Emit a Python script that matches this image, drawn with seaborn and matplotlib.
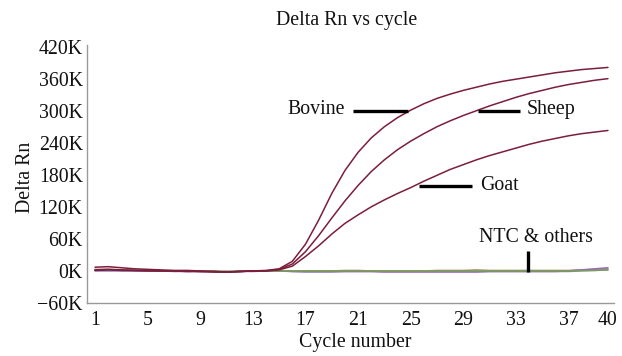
import matplotlib
matplotlib.use("Agg")
import matplotlib.pyplot as plt
import seaborn as sns
import pandas as pd
from matplotlib.ticker import FuncFormatter

# ---- data (values in K) ----
cycles = list(range(1, 41))
bovine = [7, 8, 6, 4, 3, 2, 1, 1, 0, -1, -2, -1, 0, 1, 4, 18, 50, 95, 145, 188,
          222, 249, 270, 287, 301, 313, 323, 331, 338, 344, 350, 355, 359, 363, 367, 371, 374, 377, 379, 381]
sheep = [2, 3, 2, 1, 1, 0, 0, 0, -1, -1, -2, -1, 0, 0, 3, 13, 36, 66, 99, 131,
         160, 186, 208, 227, 243, 257, 270, 281, 291, 300, 309, 317, 325, 332, 338, 344, 349, 353, 357, 360]
goat = [1, 2, 1, 1, 0, 0, 0, -1, -1, -2, -2, -1, 0, 0, 2, 9, 27, 47, 69, 89,
        105, 120, 133, 145, 156, 168, 179, 190, 199, 208, 216, 223, 230, 237, 243, 248, 253, 257, 260, 263]
ntc_green = [2, 2, 1, 1, 1, 0, 0, 0, 0, 0, -1, 0, 0, 0, 0, 0, 0, 0, 0, 0,
             0, 0, 0, 0, 0, 0, 0, 0, 0, 0, 0, 0, 0, 0, 0, 0, 0, 1, 1, 2]
ntc_purple = [1, 1, 1, 0, 0, 0, -1, -1, -1, -1, -2, -1, -1, 0, 0, -1, -1, -1, -1, -1,
              -1, -1, -2, -2, -2, -2, -2, -2, -2, -2, -1, -1, -1, -1, -1, -1, 0, 2, 4, 6]
ntc_tan = [3, 3, 2, 1, 0, 0, 0, -1, 0, -1, -1, -1, 0, 0, 0, 0, 0, 0, 0, 1,
           1, 0, 0, 0, 0, 0, 1, 1, 1, 2, 1, 1, 1, 1, 1, 1, 1, 2, 3, 4]
ntc_blue = [0, 0, 0, 0, 0, 0, 0, 0, -1, -1, -1, -1, 0, 0, 0, -1, -2, -2, -2, -1,
            -1, -1, -1, -1, -1, -1, -1, -1, -1, -1, -1, -1, -1, -1, -1, -1, -1, 0, 1, 2]

y_ticks = [-60, 0, 60, 120, 180, 240, 300, 360, 420]
x_ticks = [1, 5, 9, 13, 17, 21, 25, 29, 33, 37, 40]

labels = ["Bovine", "Sheep", "Goat", "NTC & others"]

series = {
    "ntc_tan": ntc_tan, "ntc_blue": ntc_blue, "ntc_purple": ntc_purple, "ntc_green": ntc_green,
    "Goat": goat, "Sheep": sheep, "Bovine": bovine,
}
palette = {
    "ntc_tan": "#b09070", "ntc_blue": "#8c8cc8", "ntc_purple": "#9b66c0", "ntc_green": "#78a050",
    "Goat": "#7b1e3c", "Sheep": "#7b1e3c", "Bovine": "#7b1e3c",
}
df = pd.DataFrame([{"cycle": c, "value": v, "sample": k}
                   for k, vals in series.items() for c, v in zip(cycles, vals)])

sns.set_theme(style="white")
plt.rcParams["font.family"] = ["Liberation Serif", "DejaVu Serif"]
FS = 14.3

fig = plt.figure(figsize=(6.22, 3.56), dpi=100)
ax = fig.add_axes([87 / 622, 1 - 303 / 356, (614 - 87) / 622, (303 - 45) / 356])

sns.lineplot(data=df, x="cycle", y="value", hue="sample", palette=palette,
             hue_order=list(series.keys()), legend=False, linewidth=1.1, ax=ax)

ax.set_xlim(0.39, 40.46)
ax.set_ylim(-60, 423)
ax.set_xticks(x_ticks)
ax.set_yticks(y_ticks)
ax.yaxis.set_major_formatter(FuncFormatter(lambda v, p: f"{int(v)}K".replace("-", "\u2212")))
ax.tick_params(axis="both", length=0, labelsize=FS, colors="#111111")
ax.tick_params(axis="x", pad=6)
ax.tick_params(axis="y", pad=3)
ax.set_xlabel("")
ax.set_ylabel("")
for s in ["top", "right"]:
    ax.spines[s].set_visible(False)
for s in ["left", "bottom"]:
    ax.spines[s].set_color("#9a9a9a")
    ax.spines[s].set_linewidth(1.0)

# annotations
lw = 2.4
ax.plot([20.6, 24.8], [300, 300], color="black", lw=lw, solid_capstyle="butt")
ax.text(20.0, 303, labels[0], ha="right", va="center", fontsize=FS, color="#111111")
ax.plot([30.1, 33.3], [300, 300], color="black", lw=lw, solid_capstyle="butt")
ax.text(33.85, 303, labels[1], ha="left", va="center", fontsize=FS, color="#111111")
ax.plot([25.6, 29.7], [159, 159], color="black", lw=lw, solid_capstyle="butt")
ax.text(30.3, 160, labels[2], ha="left", va="center", fontsize=FS, color="#111111")
ax.plot([33.9, 33.9], [-2, 37], color="black", lw=lw, solid_capstyle="butt")
ax.text(34.5, 62, labels[3], ha="center", va="center", fontsize=FS, color="#111111")

fig.text(347 / 622, 1 - 20 / 356, "Delta Rn vs cycle", ha="center", va="center", fontsize=FS, color="#111111")
fig.text(25 / 622, 1 - 177 / 356, "Delta Rn", ha="center", va="center", rotation=90, fontsize=FS, color="#111111")
fig.text(355 / 622, 1 - 342 / 356, "Cycle number", ha="center", va="center", fontsize=FS, color="#111111")

fig.savefig("out.png", dpi=100)
